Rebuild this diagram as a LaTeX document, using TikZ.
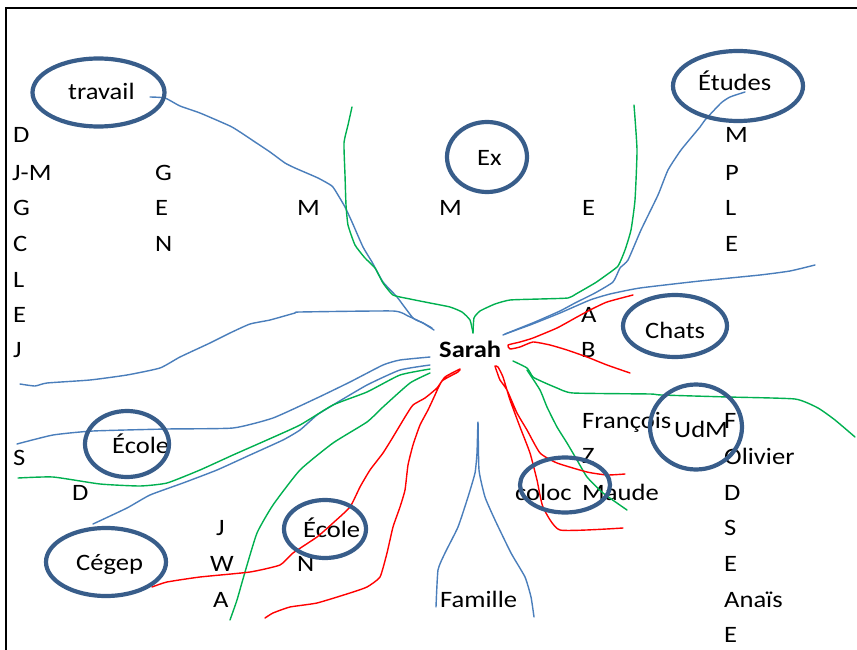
\documentclass[tikz,border=0pt]{standalone}
\usepackage{fontspec}
\setmainfont{Carlito}[FakeStretch=1.13]
\usetikzlibrary{shapes.geometric}
\definecolor{ovalblue}{HTML}{385D8A}
\definecolor{inkblue}{HTML}{4A7EBB}
\definecolor{inkgreen}{HTML}{00B050}
\definecolor{inkred}{HTML}{FF0000}
\tikzset{
  lbl/.style={anchor=base west, inner sep=0pt, font=\fontsize{23.5}{28}\selectfont},
  oval/.style={ellipse, draw=ovalblue, line width=4.2pt, inner sep=0pt},
  ink/.style={line width=1.4pt, line join=round, line cap=round},
  bstroke/.style={ink, draw=inkblue},
  gstroke/.style={ink, draw=inkgreen},
  rstroke/.style={ink, draw=inkred},
  frame/.style={line width=2.5pt, draw=black}
}
\begin{document}
\begin{tikzpicture}[x=1pt, y=-1pt]
\useasboundingbox (0,0) rectangle (857,650);
\fill[white] (0,0) rectangle (857,650);
% page frame
\coordinate (fbl) at (6,650);
\coordinate (ftl) at (6,8);
\coordinate (ftr) at (857,8);
\draw[frame] (fbl) -- (ftl) -- (ftr);

% names and initials
\node[lbl] (l1) at (13,143) {D};
\node[lbl] (l2) at (12,180) {J-M};
\node[lbl] (l3) at (13,215) {G};
\node[lbl] (l4) at (13,251) {C};
\node[lbl] (l5) at (13,287) {L};
\node[lbl] (l6) at (13,322) {E};
\node[lbl] (l7) at (13,357) {J};
\node[lbl] (l8) at (13,465) {S};
\node[lbl] (l9) at (72,500) {D};
\node[lbl] (m1) at (155,180) {G};
\node[lbl] (m2) at (155,215) {E};
\node[lbl] (m3) at (155,251) {N};
\node[lbl] (m4) at (297,215) {M};
\node[lbl] (m5) at (439,215) {M};
\node[lbl] (m6) at (582,215) {E};
\node[lbl] (r1) at (725,143) {M};
\node[lbl] (r2) at (725,180) {P};
\node[lbl] (r3) at (725,215) {L};
\node[lbl] (r4) at (725,251) {E};
\node[lbl] (ca) at (581,322) {A};
\node[lbl] (cb) at (581,357) {B};
\node[lbl] (fr) at (582,428) {François};
\node[lbl] (fz) at (582,463) {Z};
\node[lbl] (fm) at (582,500) {Maude};
\node[lbl] (u1) at (724,428) {F};
\node[lbl] (u2) at (724,464) {Olivier};
\node[lbl] (u3) at (724,500) {D};
\node[lbl] (u4) at (724,535) {S};
\node[lbl] (u5) at (724,571) {E};
\node[lbl] (u6) at (724,607) {Anaïs};
\node[lbl] (u7) at (724,642) {E};
\node[lbl] (s1) at (216,535) {J};
\node[lbl] (s2) at (210,571) {W};
\node[lbl] (s3) at (213,607) {A};
\node[lbl] (s4) at (297,571) {N};
\node[lbl] (fam) at (440,607) {Famille};
\node[lbl, font=\fontsize{23.5}{28}\selectfont\bfseries] (sarah) at (439,357) {Sarah};

% circled group labels
\node[lbl] (ttrav) at (68,100) {travail};
\node[lbl] (tetud) at (698,91) {Études};
\node[lbl] (tex) at (477,165) {Ex};
\node[lbl] (tchat) at (645,338) {Chats};
\node[lbl] (tudm) at (674,437) {UdM};
\node[lbl] (tcoloc) at (515,500) {coloc};
\node[lbl] (tecole) at (112,453) {École};
\node[lbl] (tecoleb) at (303,537) {École};
\node[lbl] (tcegep) at (76,570) {Cégep};

% hand-drawn strokes
\draw[bstroke] plot[smooth, tension=0.3] coordinates {(150,97) (165,98) (180,106) (200,113) (230,126) (240,132) (255,142) (270,152) (285,163) (295,168) (318,178) (332,186) (338,195) (345,207) (352,222) (363,247) (372,262) (383,282) (397,297) (413,318) (423,323) (434,330)};
\draw[gstroke] plot[smooth, tension=0.3] coordinates {(352,107) (348,125) (344,143) (345,175) (346,205) (348,225) (355,245) (365,258) (375,268) (383,283) (393,295) (410,299) (430,303) (450,307) (462,312) (470,320) (473,333)};
\draw[gstroke] plot[smooth, tension=0.3] coordinates {(473,333) (474,318) (480,311) (495,304) (510,300) (540,299) (568,298) (576,294) (595,283) (605,276) (618,266) (625,250) (631,230) (635,200) (637,150) (634,105)};
\draw[bstroke] plot[smooth, tension=0.3] coordinates {(20,384) (35,386) (47,383) (90,380) (127,375) (160,368) (180,357) (210,343) (230,333) (250,324) (270,320) (295,313) (300,312) (393,311) (408,316) (423,323) (432,328)};
\draw[bstroke] plot[smooth, tension=0.3] coordinates {(745,92) (730,97) (721,103) (705,120) (700,127) (681,150) (668,170) (658,195) (641,230) (628,260) (620,268) (613,282) (595,293) (575,303) (560,311) (535,322) (520,328) (503,335)};
\draw[bstroke] plot[smooth, tension=0.3] coordinates {(815,265) (790,271) (760,275) (700,281) (640,288) (610,294) (590,300) (560,313) (530,325) (505,334)};
\draw[rstroke] plot[smooth, tension=0.3] coordinates {(633,295) (607,302) (590,310) (577,317) (557,328) (533,338) (520,342) (508,345) (510,349) (520,347) (533,342) (550,345) (567,350) (587,357) (607,365) (630,373)};
\draw[gstroke] plot[smooth, tension=0.3] coordinates {(513,361) (527,368) (533,377) (543,382) (557,388) (573,393) (650,394) (661,395) (728,397) (795,399) (818,408) (835,420) (855,437)};
\draw[gstroke] plot[smooth, tension=0.3] coordinates {(527,370) (540,390) (547,407) (557,427) (567,443) (577,460) (587,477) (603,493) (627,510)};
\draw[rstroke] plot[smooth, tension=0.3] coordinates {(623,528) (560,530) (543,507) (537,480) (530,453) (520,427) (510,400) (503,377) (498,367) (495,366) (497,372) (500,380) (507,390) (517,413) (527,430) (540,453) (557,463) (587,472) (607,475) (625,474)};
\draw[bstroke] plot[smooth, tension=0.3] coordinates {(17,444) (53,435) (93,431) (167,429) (233,428) (273,418) (317,398) (350,382) (383,365) (400,360) (430,357)};
\draw[bstroke] plot[smooth, tension=0.3] coordinates {(93,524) (127,508) (150,495) (183,483) (217,470) (250,455) (283,440) (300,430) (317,415) (333,405) (367,385) (400,370) (430,365)};
\draw[gstroke] plot[smooth, tension=0.3] coordinates {(18,478) (53,477) (100,484) (140,486) (167,483) (200,470) (233,455) (267,440) (300,425) (333,405) (367,392) (400,375) (430,369)};
\draw[gstroke] plot[smooth, tension=0.3] coordinates {(230,620) (237,600) (245,572) (257,533) (273,505) (300,470) (333,443) (367,422) (383,407) (410,383) (430,373)};
\draw[rstroke] plot[smooth, tension=0.3] coordinates {(152,587) (167,582) (200,577) (250,572) (280,565) (293,553) (317,537) (333,523) (350,507) (360,487) (370,470) (383,453) (393,437) (405,417) (413,405) (425,398) (437,388) (445,377) (460,369) (458,372) (442,381) (435,395) (428,410) (420,425) (413,445) (408,465) (405,490) (400,507) (393,527) (387,553) (380,577) (367,587) (350,593) (317,603) (290,607) (273,613) (265,618)};
\draw[bstroke] plot[smooth, tension=0.3] coordinates {(436,607) (438,570) (445,553) (458,527) (468,497) (475,473) (477,453) (478,422) (479,470) (485,497) (495,520) (511,553) (525,577) (531,597) (534,617)};

% circles around the group labels
\node[oval, minimum width=132pt, minimum height=68pt] (travail) at (98.5,92.5) {};
\node[oval, minimum width=130pt, minimum height=70pt] (etudes) at (738,86) {};
\node[oval, minimum width=80pt, minimum height=70pt] (ex) at (487,157) {};
\node[oval, minimum width=104pt, minimum height=62pt] (chats) at (675,326) {};
\node[oval, minimum width=92pt, minimum height=85pt] (udm) at (696,427) {};
\node[oval, minimum width=90pt, minimum height=55pt] (coloc) at (565,485) {};
\node[oval, minimum width=84pt, minimum height=66pt] (ecole) at (127,444) {};
\node[oval, minimum width=82pt, minimum height=58pt] (ecoleb) at (325,529) {};
\node[oval, minimum width=120pt, minimum height=68pt] (cegep) at (106,562) {};
\end{tikzpicture}
\end{document}
